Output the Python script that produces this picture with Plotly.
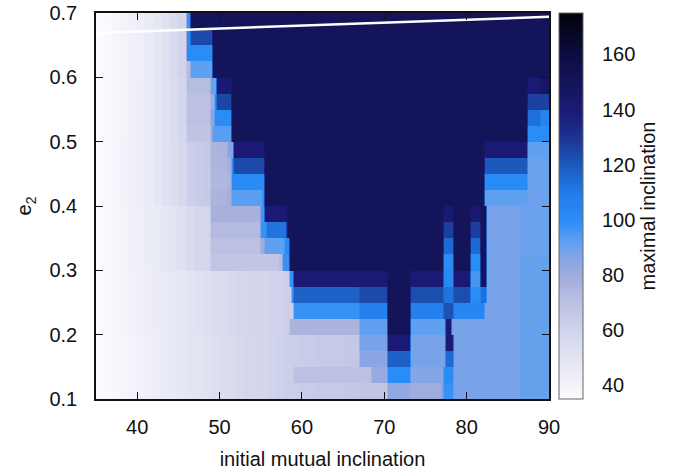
import numpy as np
import plotly.graph_objects as go

# ---------------- data ----------------
X_START, X_END = 35, 90          # initial mutual inclination range (deg)
ROW_TOP, ROW_H = 0.7, 0.025      # e2 rows, listed from top (0.675-0.7) to bottom (0.1-0.125)

# lavender part of each row: one value per degree starting at x = 35
ROW_LAV = [
    [35, 36, 38, 39, 41, 42, 45, 48, 51, 55, 59],
    [35, 36, 38, 39, 41, 42, 45, 48, 51, 55, 59],
    [35, 36, 38, 39, 41, 42, 45, 48, 51, 55, 59],
    [35, 36, 38, 39, 41, 42, 45, 48, 51, 55, 60],
    [35, 36, 38, 39, 41, 43, 45, 48, 51, 54, 58, 72, 72, 72],
    [35, 36, 38, 39, 41, 43, 45, 48, 51, 54, 58, 70, 70, 70],
    [35, 36, 38, 39, 41, 43, 45, 48, 51, 54, 57, 70, 70, 70],
    [35, 36, 38, 39, 41, 43, 45, 48, 51, 54, 57, 68, 68, 68],
    [35, 36, 38, 40, 41, 43, 45, 48, 51, 53, 56, 62, 64, 65, 76, 76],
    [35, 36, 38, 40, 41, 43, 45, 48, 51, 53, 56, 62, 64, 65, 75, 75],
    [35, 36, 38, 40, 41, 43, 45, 48, 51, 53, 56, 62, 64, 65, 74, 74],
    [35, 36, 38, 40, 41, 43, 45, 48, 51, 53, 56, 62, 64, 65, 76, 76],
    [35, 36, 38, 39, 41, 42, 44, 46, 48, 50, 52, 55, 57, 58, 77, 77, 77, 77, 77, 77],
    [35, 36, 38, 39, 41, 42, 44, 46, 48, 50, 52, 55, 57, 58, 73, 73, 73, 73, 73, 73],
    [35, 36, 38, 39, 41, 42, 44, 46, 48, 50, 52, 55, 57, 58, 70, 70, 70, 70, 70, 70],
    [35, 36, 38, 39, 41, 42, 44, 46, 48, 50, 52, 55, 57, 58, 67, 67, 67, 67, 67, 67],
    [35, 36, 37, 39, 40, 41, 43, 44, 46, 47, 48, 50, 51, 53, 54, 55, 56, 57, 58, 59, 59, 60, 60],
    [35, 36, 37, 39, 40, 41, 43, 44, 46, 47, 48, 50, 51, 53, 54, 55, 56, 57, 58, 59, 59, 60, 60],
    [35, 36, 37, 39, 40, 41, 43, 44, 46, 47, 48, 50, 51, 53, 54, 55, 56, 57, 58, 59, 59, 60, 60],
    [35, 36, 37, 39, 40, 41, 43, 44, 46, 47, 48, 50, 51, 53, 54, 55, 56, 57, 58, 59, 59, 60, 60],
    [35, 36, 37, 38, 39, 40, 42, 43, 45, 46, 48, 49, 50, 51, 53, 54, 55, 56, 57, 58, 59, 60, 61, 62, 63, 64, 64, 65, 65, 65, 66, 66],
    [35, 36, 37, 38, 39, 40, 42, 43, 45, 46, 48, 49, 50, 51, 53, 54, 55, 56, 57, 58, 59, 60, 61, 62, 63, 64, 64, 65, 65, 65, 66, 66],
    [35, 36, 37, 38, 39, 40, 42, 43, 45, 46, 48, 49, 50, 51, 53, 54, 55, 56, 57, 58, 59, 60, 61, 62, 70, 70, 70, 70, 70, 70, 70, 70],
    [35, 36, 37, 38, 39, 40, 42, 43, 45, 46, 48, 49, 50, 51, 53, 54, 55, 56, 57, 58, 59, 60, 61, 62, 63, 64, 64, 65, 65, 65, 66, 66],
]

# remainder of each row: (x_end, maximal inclination) segments
ROW_SEGS = [
    [(46.4, 98), (90, 150)],
    [(46.4, 100), (49.2, 124), (90, 150)],
    [(49.2, 100), (90, 150)],
    [(46.3, 72), (49.2, 92), (90, 150)],
    [(49.7, 90), (51.5, 140), (87.3, 150), (89.0, 140), (90, 146)],
    [(49.5, 80), (49.7, 100), (51.3, 125), (87.3, 150), (90, 126)],
    [(49.5, 85), (51.3, 100), (87.3, 150), (89.0, 113), (90, 106)],
    [(49.25, 80), (51.5, 93), (87.3, 150), (90, 100)],
    [(51.6, 86), (55.3, 140), (82.2, 150), (87.3, 140), (90, 92)],
    [(51.3, 78), (51.6, 100), (55.3, 124), (82.2, 150), (87.3, 120), (90, 90)],
    [(51.3, 76), (55.4, 101), (82.2, 150), (87.3, 101), (90, 90)],
    [(51.5, 78), (55.2, 93), (55.5, 100), (82.2, 150), (87.3, 92), (90, 90)],
    [(55.5, 96), (58.1, 140), (77.1, 150), (78.4, 142), (80.4, 150), (81.6, 142), (82.3, 150), (86.5, 88), (90, 90)],
    [(55.7, 98), (58.1, 112), (77.1, 150), (78.4, 127), (80.4, 150), (81.6, 127), (82.3, 150), (86.5, 88), (90, 90)],
    [(55.4, 80), (57.9, 92), (58.3, 100), (77.1, 150), (78.4, 115), (80.4, 150), (81.6, 115), (82.3, 150), (86.5, 88), (90, 90)],
    [(57.1, 67), (57.6, 72), (58.4, 98), (77.1, 150), (78.4, 100), (80.4, 150), (81.6, 100), (82.3, 150), (86.5, 88), (90, 91)],
    [(58.5, 62), (58.8, 98), (70.3, 140), (73.1, 150), (77.1, 140), (78.4, 102), (80.4, 140), (81.6, 96), (82.3, 150), (86.5, 88), (90, 91)],
    [(58.6, 62), (58.9, 98), (67.0, 118), (70.3, 124), (73.2, 150), (77.1, 123), (78.4, 112), (80.4, 123), (81.6, 100), (82.3, 113), (86.5, 88), (90, 91)],
    [(58.8, 62), (67.0, 98), (70.3, 108), (73.2, 150), (77.1, 108), (78.4, 122), (82.2, 104), (86.5, 88), (90, 91)],
    [(58.3, 62), (67.0, 76), (70.3, 92), (73.2, 150), (77.4, 92), (78.2, 140), (86.5, 88), (90, 91)],
    [(70.5, 88), (73.2, 140), (77.3, 88), (78.3, 140), (86.5, 88), (90, 91)],
    [(70.3, 85), (73.2, 118), (77.3, 88), (78.3, 115), (86.5, 88), (90, 91)],
    [(68.5, 70), (70.3, 82), (73.2, 100), (77.1, 86), (78.5, 100), (86.5, 88), (90, 91)],
    [(70.3, 67), (73.2, 83), (76.8, 80), (77.1, 88), (78.4, 98), (86.5, 88), (90, 91)],
]

# colour palette (value -> colour)
CB_VALUES = [35, 40, 50, 60, 70, 78, 85, 92, 100, 108, 115, 122, 128, 134, 140, 150, 160, 175]
CB_COLORS = ["#fbfcfe", "#f1f2f9", "#e2e4f2", "#d0d3eb", "#bcc1e3", "#a6aedb", "#8aa6e4",
             "#60a0f0", "#2a8cf6", "#2480ec", "#1e6ad4", "#1c52b4", "#1c3a98", "#1a2684",
             "#1a1a76", "#14145a", "#0c0c40", "#020208"]

# white curve near the top
LINE_X = [35, 90]
LINE_Y = [0.669, 0.694]

X_TICKS = [40, 50, 60, 70, 80, 90]
Y_TICKS = [0.1, 0.2, 0.3, 0.4, 0.5, 0.6, 0.7]
CB_TICKS = [40, 60, 80, 100, 120, 140, 160]
Z_MIN, Z_MAX = 35, 175

# ---------------- build grid ----------------
def row_value(lav, segs, x):
    k = int(np.floor(x - X_START + 1e-9))
    if k < len(lav):
        return lav[k]
    for xe, v in segs:
        if x < xe:
            return v
    return segs[-1][1]

xs = [round(X_START + 0.25 * i, 4) for i in range(int((X_END - X_START) / 0.25) + 1)]
ys, z = [], []
for r in reversed(range(len(ROW_LAV))):
    hi = ROW_TOP - ROW_H * r
    lo = hi - ROW_H
    vals = [row_value(ROW_LAV[r], ROW_SEGS[r], x) for x in xs]
    ys += [round(lo + 0.0003, 5), round(hi - 0.0003, 5)]
    z += [vals, vals]

colorscale = [[(v - Z_MIN) / (Z_MAX - Z_MIN), c] for v, c in zip(CB_VALUES, CB_COLORS)]

FONT = "Liberation Sans, Arial, Helvetica, sans-serif"
FS = 20
TXT = "#111"

# colour bar geometry (fractions of the plot area)
PLOT_W = 692 - 96 - 143
CB_X0 = 1.022
CB_THICK = 24
CB_X1 = CB_X0 + CB_THICK / PLOT_W
DASH = 6 / PLOT_W

fig = go.Figure()
fig.add_trace(go.Heatmap(
    x=xs, y=ys, z=z, zmin=Z_MIN, zmax=Z_MAX, zsmooth="best",
    colorscale=colorscale, hoverinfo="skip",
    colorbar=dict(
        x=CB_X0, xanchor="left", xpad=0, y=0.5, yanchor="middle", len=1, ypad=0,
        thickness=CB_THICK, outlinecolor="#666", outlinewidth=1,
        ticks="outside", ticklen=15, tickcolor="rgba(0,0,0,0)",
        tickvals=CB_TICKS, tickfont=dict(family=FONT, size=FS, color=TXT),
        title=dict(text="maximal inclination", side="right",
                   font=dict(family=FONT, size=FS, color=TXT)),
    ),
))
fig.add_trace(go.Scatter(x=LINE_X, y=LINE_Y, mode="lines",
                         line=dict(color="white", width=2.5),
                         showlegend=False, hoverinfo="skip"))

# inside tick dashes on both edges of the colour bar
for v in CB_TICKS:
    yy = (v - Z_MIN) / (Z_MAX - Z_MIN)
    for xa, xb in ((CB_X0, CB_X0 + DASH), (CB_X1 - DASH, CB_X1)):
        fig.add_shape(type="line", xref="paper", yref="paper", x0=xa, x1=xb, y0=yy, y1=yy,
                      line=dict(color="#555", width=1.5))

axis_common = dict(
    ticks="inside", ticklen=7, tickwidth=1, tickcolor="#111",
    showline=True, linecolor="#111", linewidth=1.5, mirror="ticks",
    showgrid=False, zeroline=False, automargin=False,
    tickfont=dict(family=FONT, size=FS, color=TXT),
)
fig.update_xaxes(range=[X_START, X_END], tickvals=X_TICKS,
                 title=dict(text="initial mutual inclination",
                            font=dict(family=FONT, size=FS, color=TXT), standoff=15),
                 ticklabelstandoff=9, **axis_common)
fig.update_yaxes(range=[0.1, 0.7], tickvals=Y_TICKS, ticktext=[f"{v:.1f}" for v in Y_TICKS],
                 title=dict(text="e<sub>2</sub>",
                            font=dict(family=FONT, size=FS, color=TXT), standoff=12),
                 ticklabelstandoff=13, **axis_common)

fig.update_layout(
    width=692, height=474,
    margin=dict(l=96, r=143, t=13, b=75, autoexpand=False),
    paper_bgcolor="white", plot_bgcolor="white",
    font=dict(family=FONT, size=FS, color=TXT),
    showlegend=False,
)

fig.write_html("out.html")
